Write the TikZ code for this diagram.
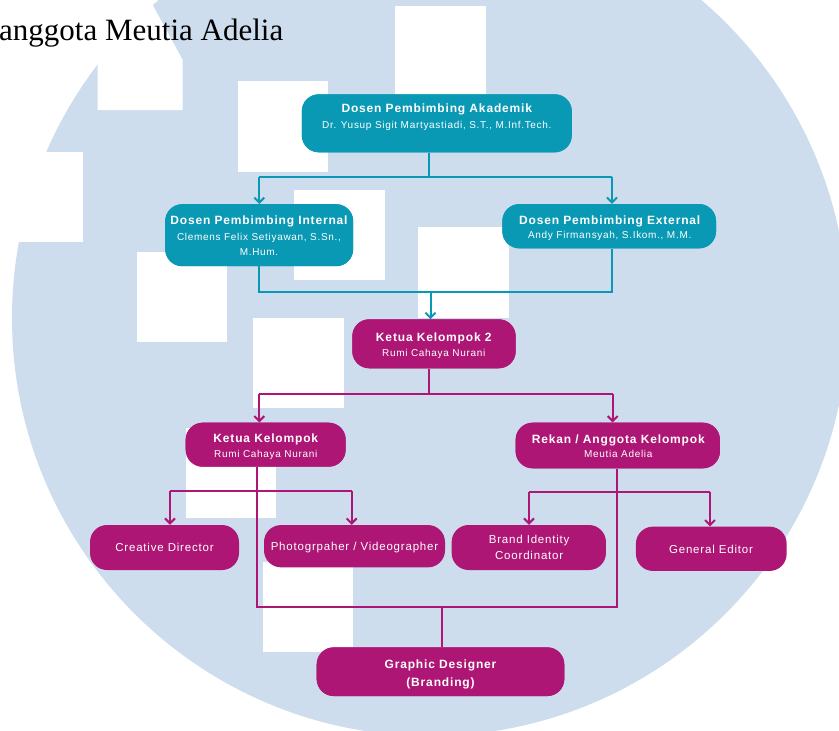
\documentclass[tikz,border=0pt]{standalone}
\usepackage{fontspec}
\setmainfont{Liberation Sans}[LetterSpace=7]
\newfontfamily\serifttl{Liberation Serif}
\usetikzlibrary{arrows.meta}
\definecolor{bgblue}{HTML}{CDDDED}
\definecolor{tealc}{HTML}{0A99B4}
\definecolor{magc}{HTML}{AD1675}
\tikzset{
  tbox/.style={fill=tealc, draw=none, rounded corners=17pt, inner sep=0pt},
  mbox/.style={fill=magc, draw=none, rounded corners=17pt, inner sep=0pt},
  ttl/.style={anchor=base, text=white, inner sep=0pt, font=\bfseries\fontsize{12}{14}\selectfont},
  sub/.style={anchor=base, text=white, inner sep=0pt, font=\fontsize{10}{12}\selectfont},
  reg/.style={anchor=base, text=white, inner sep=0pt, font=\fontsize{11.5}{13}\selectfont},
  tline/.style={draw=tealc, line width=2pt},
  mline/.style={draw=magc, line width=2pt},
  arr/.style={-{Straight Barb[length=5pt,width=10pt]}},
  whiterect/.style={fill=white, draw=none}
}
\begin{document}
\begin{tikzpicture}[x=1pt,y=-1pt]
\useasboundingbox (0,0) rectangle (839,731);
\clip (0,0) rectangle (839,731);
% background
\fill[bgblue] (430,318) circle[radius=418pt];
% white patches
\fill[whiterect] (60,0) -- (150,0) -- (182.7,60) -- (182.7,110) -- (97.7,110) -- (97.7,0) -- cycle;
\fill[whiterect] (395,6) rectangle (486,95);
\fill[whiterect] (238,81) rectangle (328,172);
\fill[whiterect] (0,151.7) rectangle (82.7,241.7);
\fill[whiterect] (294,190) rectangle (385,280);
\fill[whiterect] (137,252) rectangle (227,342);
\fill[whiterect] (418,227) rectangle (509,318);
\fill[whiterect] (253,318) rectangle (344,408);
\fill[whiterect] (186,428) rectangle (276,518);
\fill[whiterect] (263,562) rectangle (353,652);
% heading
\node[anchor=base west, inner sep=0pt, font=\serifttl\fontsize{31}{31}\selectfont] (head) at (-1,40) {anggota Meutia Adelia};
% boxes
\node[tbox, minimum width=270pt, minimum height=58pt] (ak) at (436.8,123.3) {};
\node[tbox, minimum width=188pt, minimum height=62pt] (int) at (259.2,235.2) {};
\node[tbox, minimum width=213.7pt, minimum height=44.3pt] (ext) at (609.2,226.2) {};
\node[mbox, minimum width=163.4pt, minimum height=49pt] (kk2) at (434,343.8) {};
\node[mbox, minimum width=160pt, minimum height=44pt] (kk) at (265.7,444.7) {};
\node[mbox, minimum width=204.3pt, minimum height=45.6pt] (rk) at (617.8,445.5) {};
\node[mbox, minimum width=149pt, minimum height=45pt] (cd) at (164.5,547.5) {};
\node[mbox, minimum width=181pt, minimum height=42.3pt] (ph) at (354.5,546.2) {};
\node[mbox, minimum width=154.3pt, minimum height=45pt] (bic) at (528.8,547.5) {};
\node[mbox, minimum width=150.7pt, minimum height=44.3pt] (ge) at (711.3,548.8) {};
\node[mbox, minimum width=247.6pt, minimum height=48.7pt] (gd) at (440.5,671.7) {};
% connector junction coordinates
\coordinate (j1) at (429.3,176.7);
\coordinate (j1l) at (259.3,176.7);
\coordinate (j1r) at (612,176.7);
\coordinate (j2l) at (259.3,291.7);
\coordinate (j2r) at (612,291.7);
\coordinate (j2) at (430.5,291.7);
\coordinate (j3) at (429.3,394);
\coordinate (j3l) at (259.3,394);
\coordinate (j3r) at (612.7,394);
\coordinate (j4) at (256.7,491);
\coordinate (j4l) at (170,491);
\coordinate (j4r) at (351.7,491);
\coordinate (j5) at (616.7,491.5);
\coordinate (j5l) at (529,491.5);
\coordinate (j5r) at (710,491.5);
\coordinate (j6l) at (256.7,606.7);
\coordinate (j6r) at (616.7,606.7);
\coordinate (j6) at (442.3,606.7);
% teal connectors
\draw[tline] (ak.south -| j1) -- (j1);
\draw[tline] (j1l) -- (j1r);
\draw[tline, arr] (j1l) -- (int.north -| j1l);
\draw[tline, arr] (j1r) -- (ext.north -| j1r);
\draw[tline] (int.south -| j2l) -- (j2l) -- (j2r) -- (ext.south -| j2r);
\draw[tline, arr] (j2) -- (kk2.north -| j2);
% magenta connectors
\draw[mline] (kk2.south -| j3) -- (j3);
\draw[mline] (j3l) -- (j3r);
\draw[mline, arr] (j3l) -- (kk.north -| j3l);
\draw[mline, arr] (j3r) -- (rk.north -| j3r);
\draw[mline] (kk.south -| j4) -- (j6l) -- (j6r) -- (rk.south -| j6r);
\draw[mline] (j4l) -- (j4r);
\draw[mline, arr] (j4l) -- (cd.north -| j4l);
\draw[mline, arr] (j4r) -- (ph.north -| j4r);
\draw[mline] (j5l) -- (j5r);
\draw[mline, arr] (j5l) -- (bic.north -| j5l);
\draw[mline, arr] (j5r) -- (ge.north -| j5r);
\draw[mline] (j6) -- (gd.north -| j6);
% redraw boxes on top of lines
\node[tbox, minimum width=270pt, minimum height=58pt] (akb) at (ak) {};
\node[tbox, minimum width=188pt, minimum height=62pt] (intb) at (int) {};
\node[tbox, minimum width=213.7pt, minimum height=44.3pt] (extb) at (ext) {};
\node[mbox, minimum width=163.4pt, minimum height=49pt] (kk2b) at (kk2) {};
\node[mbox, minimum width=160pt, minimum height=44pt] (kkb) at (kk) {};
\node[mbox, minimum width=204.3pt, minimum height=45.6pt] (rkb) at (rk) {};
\node[mbox, minimum width=247.6pt, minimum height=48.7pt] (gdb) at (gd) {};
% texts
\node[ttl] (ak1) at (436.8,112.7) {Dosen Pembimbing Akademik};
\node[sub] (ak2) at (436.8,128) {Dr. Yusup Sigit Martyastiadi, S.T., M.Inf.Tech.};
\node[ttl] (int1) at (259,224.5) {Dosen Pembimbing Internal};
\node[sub] (int2) at (259,240) {Clemens Felix Setiyawan, S.Sn.,};
\node[sub] (int3) at (259,255) {M.Hum.};
\node[ttl] (ext1) at (609.7,224) {Dosen Pembimbing External};
\node[sub] (ext2) at (609.7,238.5) {Andy Firmansyah, S.Ikom., M.M.};
\node[ttl] (kk21) at (433.8,341.5) {Ketua Kelompok 2};
\node[sub] (kk22) at (433.8,356.5) {Rumi Cahaya Nurani};
\node[ttl] (kk1) at (265.8,442.5) {Ketua Kelompok};
\node[sub] (kk2t) at (265.8,457.5) {Rumi Cahaya Nurani};
\node[ttl] (rk1) at (618.3,443) {Rekan / Anggota Kelompok};
\node[sub] (rk2) at (618.3,457.7) {Meutia Adelia};
\node[reg] (cdt) at (164.5,551.5) {Creative Director};
\node[reg] (pht) at (354.5,550.3) {Photogrpaher / Videographer};
\node[reg] (bic1) at (529.2,543.3) {Brand Identity};
\node[reg] (bic2) at (529.2,559.3) {Coordinator};
\node[reg] (get) at (711,553.3) {General Editor};
\node[ttl] (gd1) at (440.5,668.3) {Graphic Designer};
\node[ttl] (gd2) at (440.5,686) {(Branding)};
\end{tikzpicture}
\end{document}
